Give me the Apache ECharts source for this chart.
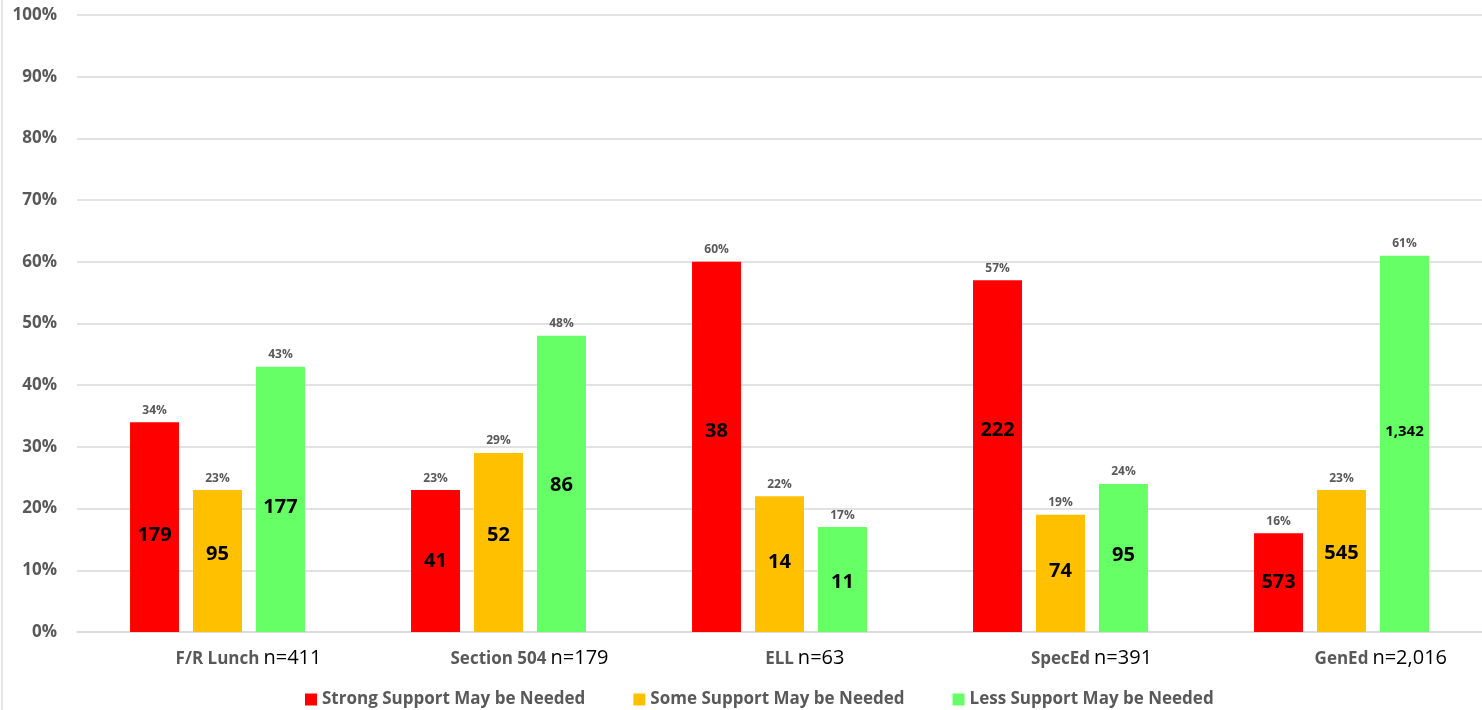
<!DOCTYPE html>
<html>
<head>
<meta charset="utf-8">
<title>Support Levels by Student Group</title>
<script src="https://cdn.jsdelivr.net/npm/echarts@6/dist/echarts.min.js"></script>
<style>
  html, body { margin: 0; padding: 0; background: #ffffff; }
  #chart { width: 1482px; height: 710px; }
</style>
</head>
<body>
<div id="chart"></div>
<script>
// Student groups and their sizes
const categories = ['F/R Lunch', 'Section 504', 'ELL', 'SpecEd', 'GenEd'];
const groupSizes = ['n=411', 'n=179', 'n=63', 'n=391', 'n=2,016'];

// Share of each group (percent) by support level
const strongPct = [34, 23, 60, 57, 16];
const somePct   = [23, 29, 22, 19, 23];
const lessPct   = [43, 48, 17, 24, 61];

// Student counts by support level
const strongCount = [179, 41, 38, 222, 573];
const someCount   = [95, 52, 14, 74, 545];
const lessCount   = [177, 86, 11, 95, 1342];

// Y axis ticks
const yTicks = [0, 10, 20, 30, 40, 50, 60, 70, 80, 90, 100];

const levelNames = ['Strong Support May be Needed', 'Some Support May be Needed', 'Less Support May be Needed'];
const levelColors = ['#ff0000', '#ffc000', '#66ff66'];

// Vertical nudges for the count labels inside the bars
const countNudge = [
  [8, 0, -16, -26, 0],
  [-7, -7, -2, -2, -8],
  [8, 1, 3, -3, -12]
];

const FONT = '"Open Sans", "Noto Sans", sans-serif';
const GREY = '#595959';

// Measure the group-size text so the group name stays centred under its bars
const measureCtx = document.createElement('canvas').getContext('2d');
measureCtx.font = '20px "Open Sans"';
const axisRich = {
  name: { fontFamily: FONT, fontSize: 17, fontWeight: 'bold', color: GREY, lineHeight: 24, verticalAlign: 'bottom' },
  size: { fontFamily: FONT, fontSize: 20, color: '#000000', lineHeight: 24, padding: [0, 0, 0, 4], verticalAlign: 'bottom' }
};
groupSizes.forEach((s, i) => {
  axisRich['pad' + i] = { width: measureCtx.measureText(s).width + 4, height: 10 };
});

const pctSets = [strongPct, somePct, lessPct];
const countSets = [strongCount, someCount, lessCount];

const barCommon = { barWidth: 49, barGap: '28.5%', barCategoryGap: 0 };

// Visible bars carrying the student counts
const countSeries = pctSets.map((pcts, k) => Object.assign({
  name: levelNames[k],
  type: 'bar',
  xAxisIndex: 0,
  itemStyle: { color: levelColors[k] },
  label: {
    show: true,
    position: 'inside',
    fontFamily: FONT,
    fontWeight: 'bold',
    fontSize: 20,
    color: '#000000'
  },
  data: pcts.map((v, i) => {
    const c = countSets[k][i];
    return {
      value: v,
      label: {
        formatter: c.toLocaleString('en-US'),
        fontSize: c >= 1000 ? 15 : 20,
        offset: [0, countNudge[k][i]]
      }
    };
  })
}, barCommon));

// Transparent overlay carrying the percentage labels above each bar
const pctSeries = pctSets.map((pcts, k) => Object.assign({
  name: levelNames[k] + ' (%)',
  type: 'bar',
  xAxisIndex: 1,
  silent: true,
  itemStyle: { color: 'rgba(0,0,0,0)' },
  label: {
    show: true,
    position: 'top',
    distance: 6,
    fontFamily: FONT,
    fontWeight: 'bold',
    fontSize: 12,
    color: GREY,
    formatter: '{c}%'
  },
  data: pcts
}, barCommon));

const chart = echarts.init(document.getElementById('chart'), null, { renderer: 'canvas' });

chart.setOption({
  animation: false,
  backgroundColor: '#ffffff',
  textStyle: { fontFamily: FONT },
  grid: { left: 77, right: 0, top: 15, bottom: 78, containLabel: false },
  legend: {
    data: levelNames,
    left: 300,
    top: 686,
    icon: 'rect',
    itemWidth: 12,
    itemHeight: 12,
    itemGap: 48,
    textStyle: { fontFamily: FONT, fontSize: 17, fontWeight: 'bold', color: GREY }
  },
  xAxis: [
    {
      type: 'category',
      data: categories,
      axisLine: { show: true, lineStyle: { color: '#d9d9d9', width: 1.5 } },
      axisTick: { show: false },
      axisLabel: {
        margin: 12,
        interval: 0,
        rich: axisRich,
        formatter: (value, idx) => '{pad' + idx + '|}{name|' + value + '}{size|' + groupSizes[idx] + '}'
      }
    },
    {
      type: 'category',
      data: categories,
      show: false
    }
  ],
  yAxis: {
    type: 'value',
    min: yTicks[0],
    max: yTicks[yTicks.length - 1],
    interval: yTicks[1] - yTicks[0],
    axisLine: { show: false },
    axisTick: { show: false },
    splitLine: { lineStyle: { color: '#d9d9d9', width: 1.5 } },
    axisLabel: {
      margin: 20,
      fontFamily: FONT,
      fontSize: 17,
      fontWeight: 'bold',
      color: GREY,
      formatter: '{value}%'
    }
  },
  graphic: [
    {
      type: 'line',
      shape: { x1: 2, y1: 0, x2: 2, y2: 710 },
      style: { stroke: '#e6e6e6', lineWidth: 2 },
      silent: true
    }
  ],
  series: countSeries.concat(pctSeries)
});
</script>
</body>
</html>
